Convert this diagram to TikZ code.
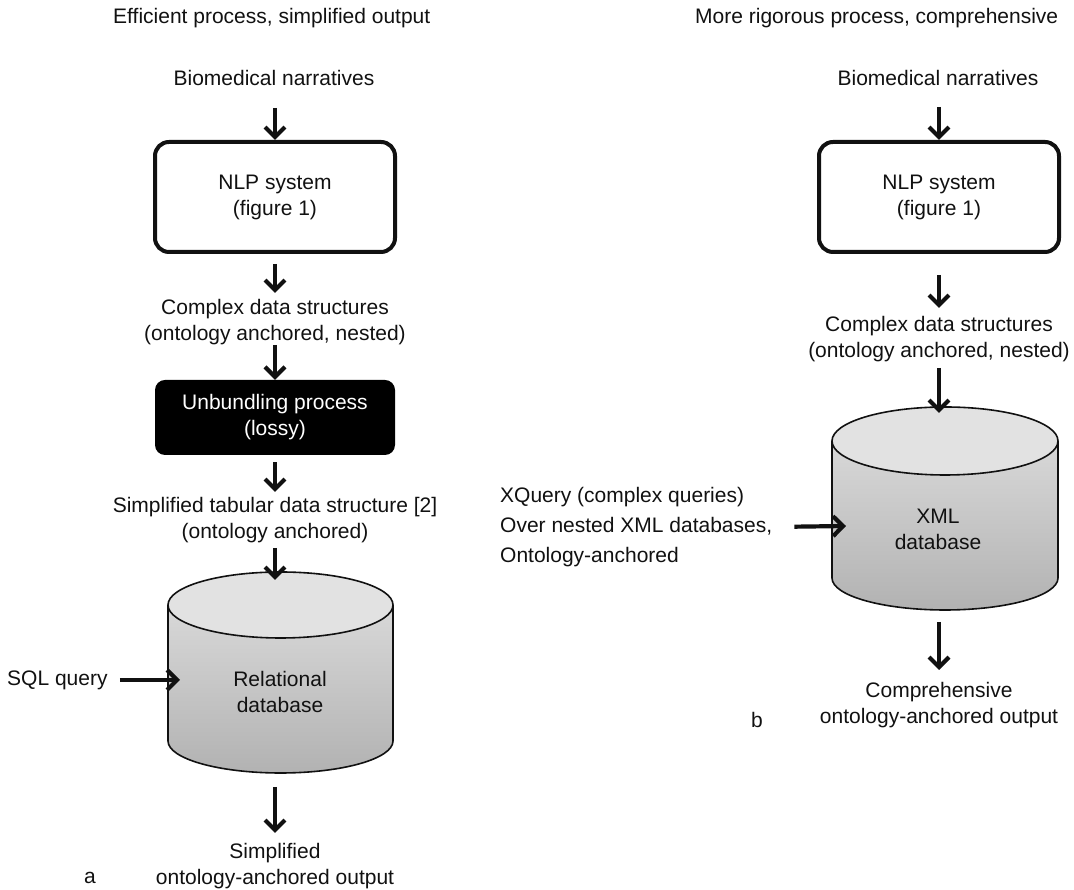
\documentclass[tikz,border=0pt]{standalone}
\usepackage{fontspec}
\setmainfont{Liberation Sans}
\usetikzlibrary{arrows.meta}
\definecolor{inkc}{HTML}{111111}
\definecolor{cyltop}{HTML}{E2E2E2}
\definecolor{bodytop}{HTML}{E0E0E0}
\definecolor{bodybot}{HTML}{B2B2B2}
\begin{document}
\begin{tikzpicture}[x=1pt,y=1pt,
  lbl/.style={align=center, text=inkc, font=\fontsize{21}{26}\selectfont, inner sep=0pt},
  hdr/.style={lbl, anchor=west},
  arr/.style={line width=4.2pt, draw=inkc, -{Straight Barb[length=10pt,width=20pt]}},
  nlpbox/.style={lbl, draw=inkc, line width=4pt, rounded corners=14pt,
    minimum width=240pt, minimum height=110pt, fill=white},
  blackbox/.style={lbl, text=white, fill=black, rounded corners=10pt,
    minimum width=240pt, minimum height=75pt},
  cylline/.style={draw=inkc, line width=1.6pt}
]
\useasboundingbox (0,0) rectangle (1074,890);

% ---------------- left flow: SQL over a relational database ----------------
\node[hdr] (hdrL) at (113,872) {Efficient process, simplified output};
\node[lbl] (bnL) at (274,812) {Biomedical narratives};
\node[nlpbox] (nlpL) at (275,693) {NLP system\\(figure 1)};
\node[lbl] (cdsL) at (275,567.5) {Complex data structures\\(ontology anchored, nested)};
\node[blackbox] (unbL) at (275,472.5) {Unbundling process\\(lossy)};
\node[lbl] (stdL) at (275,370) {Simplified tabular data structure [2]\\(ontology anchored)};

% relational database cylinder
\shade[top color=bodytop, bottom color=bodybot]
  (168,285) -- (168,149) arc[start angle=180, end angle=360, x radius=112.5, y radius=32]
  -- (393,285) arc[start angle=0, end angle=180, x radius=112.5, y radius=33] -- cycle;
\draw[cylline] (168,285) -- (168,149) arc[start angle=180, end angle=360, x radius=112.5, y radius=32] -- (393,285);
\draw[cylline, fill=cyltop] (280.5,285) ellipse[x radius=112.5, y radius=33];
\node[lbl] (dbL) at (280,198) {Relational\\database};
\coordinate (dbLin) at (275,310);
\coordinate (dbLw) at (180,210);
\coordinate (dbLout) at (275,103);

\node[lbl, anchor=west] (sql) at (7,210) {SQL query};
\node[lbl] (outL) at (275,23.5) {Simplified\\ontology-anchored output};
\node[lbl] (tagA) at (90,12) {a};

\draw[arr] ([yshift=-30pt]bnL.center -| nlpL.north) -- (nlpL.north);
\draw[arr] ([yshift=-10pt]nlpL.south) -- ([yshift=29.5pt]cdsL.center);
\draw[arr] ([yshift=-22.5pt]cdsL.center) -- (unbL.north);
\draw[arr] ([yshift=-7pt]unbL.south) -- ([yshift=28pt]stdL.center);
\draw[arr] ([yshift=-28pt]stdL.center) -- (dbLin);
\draw[arr, shorten <=12pt] (sql.east) -- (dbLw);
\draw[arr] (dbLout) -- ([yshift=33.5pt]outL.center);

% ---------------- right flow: XQuery over an XML database ----------------
\node[hdr] (hdrR) at (695,872) {More rigorous process, comprehensive};
\node[lbl] (bnR) at (938,812) {Biomedical narratives};
\node[nlpbox] (nlpR) at (939,693) {NLP system\\(figure 1)};
\node[lbl] (cdsR) at (939,550.5) {Complex data structures\\(ontology anchored, nested)};

% XML database cylinder
\shade[top color=bodytop, bottom color=bodybot]
  (832,449) -- (832,312) arc[start angle=180, end angle=360, x radius=113, y radius=32]
  -- (1058,449) arc[start angle=0, end angle=180, x radius=113, y radius=34] -- cycle;
\draw[cylline] (832,449) -- (832,312) arc[start angle=180, end angle=360, x radius=113, y radius=32] -- (1058,449);
\draw[cylline, fill=cyltop] (945,449) ellipse[x radius=113, y radius=34];
\node[lbl] (dbR) at (938,360.5) {XML\\database};
\coordinate (dbRin) at (939,477);
\coordinate (dbRw) at (846,364);
\coordinate (dbRout) at (939,268);

\node[lbl, anchor=west, align=left, font=\fontsize{21}{30}\selectfont] (xq) at (500,363)
  {XQuery (complex queries)\\Over nested XML databases,\\Ontology-anchored};
\node[lbl] (outR) at (939,184.5) {Comprehensive\\ontology-anchored output};
\node[lbl] (tagB) at (757,170) {b};

\draw[arr] ([yshift=-29pt]bnR.center -| nlpR.north) -- (nlpR.north);
\draw[arr] ([yshift=-21pt]nlpR.south) -- ([yshift=31.5pt]cdsR.center);
\draw[arr] ([yshift=-28.5pt]cdsR.center) -- (dbRin);
\draw[arr, shorten <=22pt] (xq.east) -- (dbRw);
\draw[arr] (dbRout) -- ([yshift=35.5pt]outR.center);
\end{tikzpicture}
\end{document}
